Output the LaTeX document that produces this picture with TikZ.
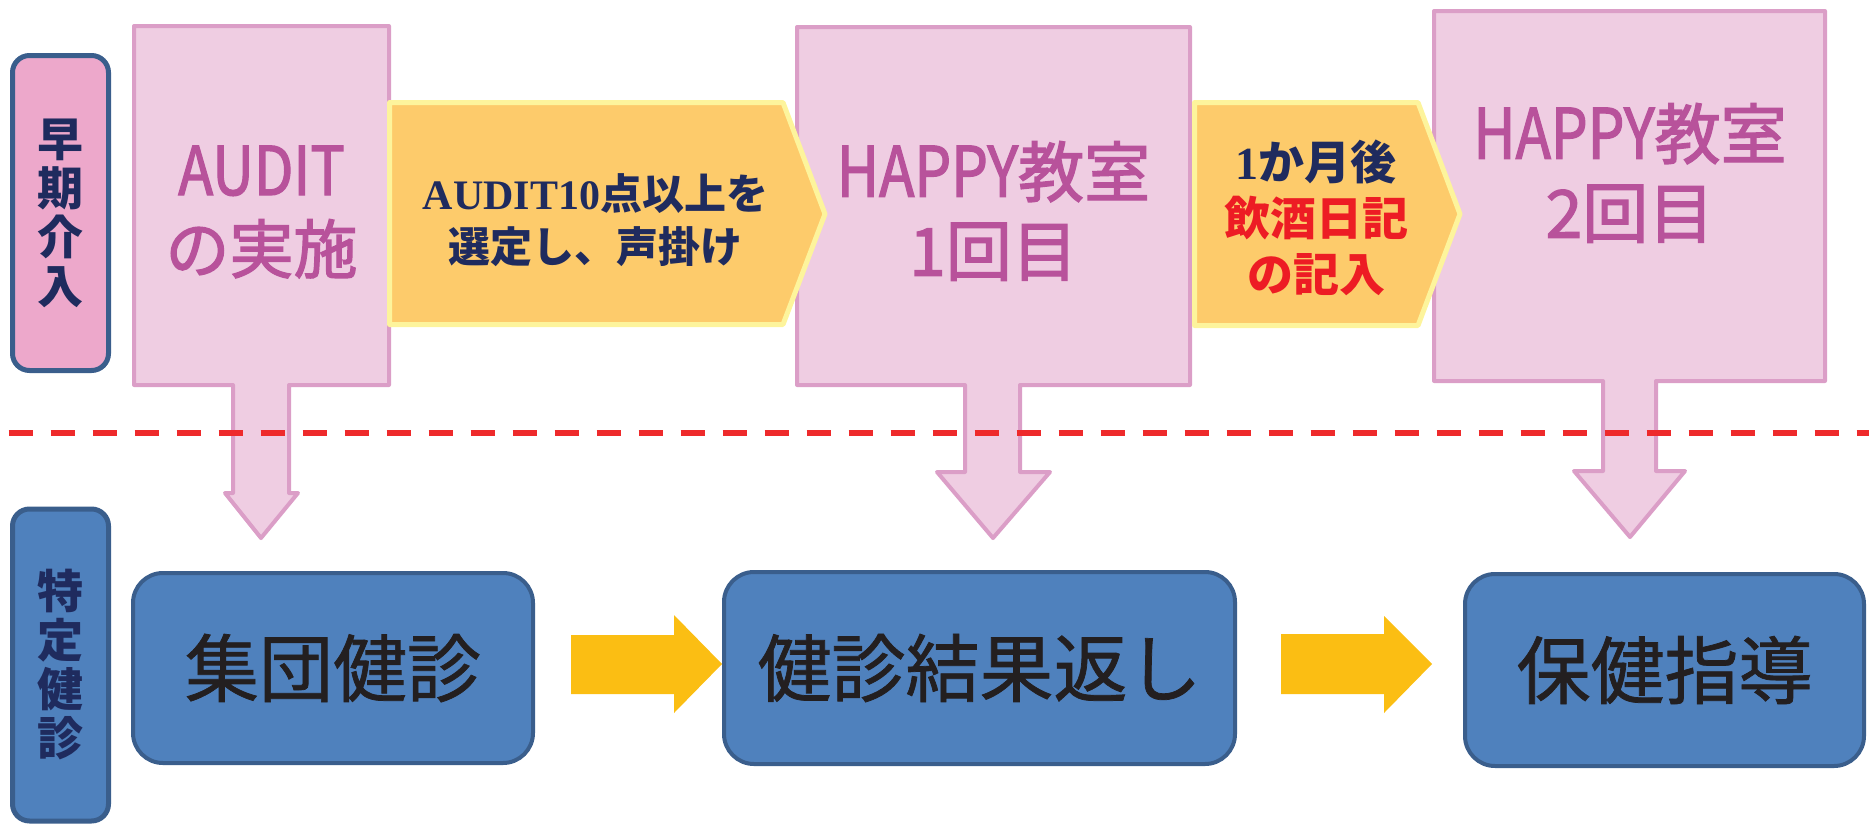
\documentclass[tikz,border=0pt]{standalone}
\usepackage{graphicx}
\usepackage{fontspec}
\setmainfont{Noto Sans CJK JP}
\newfontfamily\jp{Noto Sans CJK JP}
\newfontfamily\jpm[UprightFeatures={FakeBold=2}]{Noto Sans CJK JP}
\newfontfamily\jpn[UprightFeatures={FakeBold=1}]{Noto Sans CJK JP}
\newfontfamily\lserif{Liberation Serif}
\definecolor{pinkfill}{HTML}{EFCDE2}
\definecolor{pinkline}{HTML}{DB9EC7}
\definecolor{pinktext}{HTML}{B8529B}
\definecolor{labpink}{HTML}{EDA8CB}
\definecolor{navyline}{HTML}{3A5E8C}
\definecolor{bluefill}{HTML}{4F81BD}
\definecolor{navytext}{HTML}{1F2B5E}
\definecolor{orfill}{HTML}{FDCB6B}
\definecolor{orline}{HTML}{FDF49C}
\definecolor{yarrowc}{HTML}{FBBE13}
\definecolor{dashred}{HTML}{EE2A2B}
\definecolor{darktext}{HTML}{231F20}
\definecolor{redtext}{HTML}{ED1C24}
\begin{document}
\begin{tikzpicture}[x=1pt,y=-1pt,
  callout/.style={fill=pinkfill, draw=pinkline, line width=4pt, line join=round},
  orarrow/.style={fill=orfill, draw=orline, line width=5pt, line join=round},
  yarrow/.style={fill=yarrowc, draw=none},
  sidelabel/.style={rectangle, rounded corners=17pt, draw=navyline, line width=5pt,
    minimum width=96pt, inner sep=0pt, align=center, text=navytext,
    font=\jp\bfseries\fontsize{46}{49}\selectfont},
  stepbox/.style={rectangle, rounded corners=30pt, draw=navyline, line width=4pt,
    fill=bluefill, inner sep=0pt, text=darktext,
    font=\jpn\fontsize{74}{80}\selectfont},
  pinktxt/.style={text=pinktext, align=center, inner sep=0pt},
  ortxt/.style={text=navytext, align=center, inner sep=0pt, font=\jp\bfseries},
  sepline/.style={draw=dashred, line width=5.3pt, dash pattern=on 24pt off 18pt}
]
\useasboundingbox (0,0) rectangle (1869,825);

% side labels
\node[sidelabel, fill=labpink, minimum height=315pt] (early) at (60.5,213) {早\\期\\介\\入};
\node[sidelabel, fill=bluefill, minimum height=312pt] (tokutei) at (60.5,665) {特\\定\\健\\診};

% pink callouts
\draw[callout] (134,26) -- (389,26) -- (389,385) -- (289,385) -- (289,493) -- (298,493)
  -- (261,538) -- (225,493) -- (233,493) -- (233,385) -- (134,385) -- cycle;
\draw[callout] (797,27) -- (1190,27) -- (1190,385) -- (1020,385) -- (1020,472) -- (1050,472)
  -- (993,538) -- (937,472) -- (965,472) -- (965,385) -- (797,385) -- cycle;
\draw[callout] (1434,11) -- (1825,11) -- (1825,381) -- (1656,381) -- (1656,471) -- (1685,471)
  -- (1630,537) -- (1574,471) -- (1603,471) -- (1603,381) -- (1434,381) -- cycle;

% orange arrows
\draw[orarrow] (389.5,102.5) -- (783,102.5) -- (825,214) -- (783,324.5) -- (389.5,324.5) -- cycle;
\draw[orarrow] (1194.5,102.5) -- (1418,102.5) -- (1460,214) -- (1418,325.5) -- (1194.5,325.5) -- cycle;

% texts in pink callouts
\node[pinktxt, font=\jpm\fontsize{64}{78}\selectfont] (audit) at (261.5,212)
  {\scalebox{0.9}[1.05]{AUDIT}\\の実施};
\node[pinktxt, font=\jpm\fontsize{66}{79}\selectfont] (happy1) at (993.5,211)
  {\scalebox{0.88}[1.05]{HAPPY}教室\\1回目};
\node[pinktxt, font=\jpm\fontsize{66}{79}\selectfont] (happy2) at (1630,173)
  {\scalebox{0.88}[1.05]{HAPPY}教室\\2回目};

% texts in orange arrows
\node[ortxt, font=\jp\bfseries\fontsize{42}{53}\selectfont] (select) at (595.5,220)
  {{\lserif\bfseries AUDIT10}点以上を\\選定し、声掛け};
\node[ortxt, font=\jp\bfseries\fontsize{46}{56}\selectfont] (diary) at (1316,218)
  {{\lserif\bfseries 1}か月後\\\textcolor{redtext}{飲酒日記}\\\textcolor{redtext}{の記入}};

% separator
\draw[sepline] (8.5,433) -- (1869,433);

% bottom boxes
\node[stepbox, minimum width=400pt, minimum height=190pt] (shudan) at (333,668) {集団健診};
\node[stepbox, minimum width=511pt, minimum height=192pt] (kekka) at (979.5,668) {健診結果返し};
\node[stepbox, minimum width=399pt, minimum height=192pt] (hoken) at (1664.5,670) {保健指導};

% yellow block arrows
\fill[yarrow] (571,635) -- (674,635) -- (674,615) -- (kekka.west |- 0,664) -- (674,713) -- (674,694) -- (571,694) -- cycle;
\fill[yarrow] (1281,634) -- (1384,634) -- (1384,616) -- (1432,664) -- (1384,713) -- (1384,694) -- (1281,694) -- cycle;
\end{tikzpicture}
\end{document}
